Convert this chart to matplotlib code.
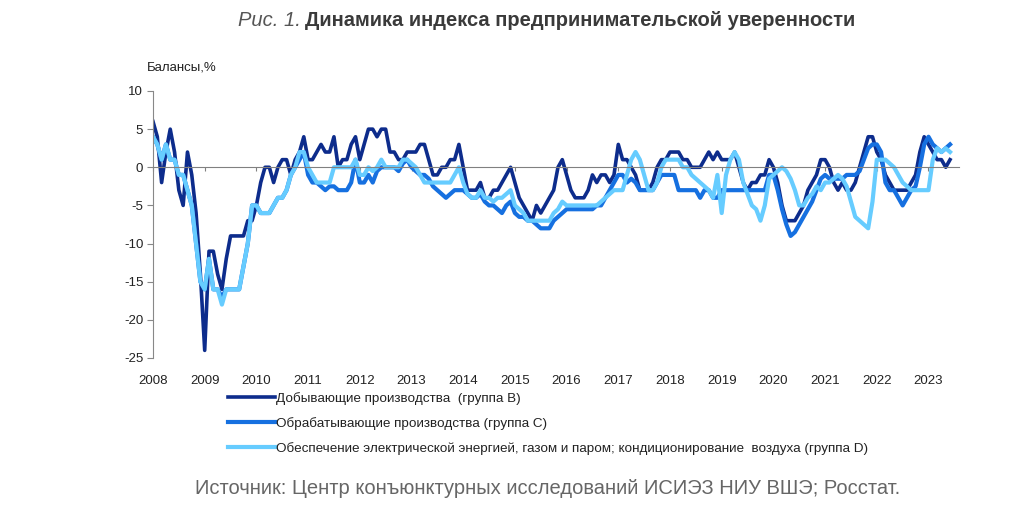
import numpy as np
import matplotlib.pyplot as plt

# monthly balances, Jan 2008 - Jun 2023 (%)
mining = [6, 4, -2, 2, 5, 2, -3, -5, 2, -1, -6, -14,
          -24, -11, -11, -14, -16, -12, -9, -9, -9, -9, -7, -7,
          -5, -2, 0, 0, -2, 0, 1, 1, -1, 1, 2, 4,
          1, 1, 2, 3, 2, 2, 4, 0, 1, 1, 3, 4,
          1, 3, 5, 5, 4, 5, 5, 2, 2, 1, 1, 2,
          2, 2, 3, 3, 1, -1, -1, 0, 0, 1, 1, 3,
          0, -3, -3, -3, -2, -4, -4, -3, -3, -2, -1, 0,
          -2, -4, -5, -6, -7, -5, -6, -5, -4, -3, 0, 1,
          -1, -3, -4, -4, -4, -3, -1, -2, -1, -1, -2, -1,
          3, 1, 1, 0, -1, -3, -3, -3, -2, 0, 1, 1,
          2, 2, 2, 1, 1, 0, 0, 0, 1, 2, 1, 2,
          1, 1, 1, 2, 0, -2, -3, -2, -2, -1, -1, 1,
          0, -2, -5, -7, -7, -7, -6, -5, -3, -2, -1, 1,
          1, 0, -2, -3, -2, -3, -3, -2, 0, 2, 4, 4,
          2, 1, -1, -2, -3, -3, -3, -3, -2, -1, 2, 4,
          3, 2, 1, 1, 0, 1]

manufacturing = [4, 3, 1, 3, 1, 1, -1, -1, -3, -5, -10, -15,
                 -16, -12, -16, -16, -17, -16, -16, -16, -16, -13, -10, -5,
                 -5, -6, -6, -6, -5, -4, -4, -3, -1, 0, 1, 2,
                 -1, -2, -2, -2.5, -3, -2.5, -2.5, -3, -3, -3, -2, 1,
                 -2, -2, -1, -2, -0.5, 0, 0, 0, 0, -0.5, 0.5, 1,
                 0, -0.5, -1, -1, -1.5, -2.5, -3, -3.5, -4, -3.5, -3, -3,
                 -3, -3.5, -4, -4, -3.5, -4.5, -5, -5, -5.5, -6, -5, -4.5,
                 -6, -6.5, -6.5, -7, -7, -7.5, -8, -8, -8, -7, -6.5, -6,
                 -5.5, -5.5, -5.5, -5.5, -5.5, -5.5, -5.5, -5, -5, -4, -3, -2,
                 -1, -1, -2, -1.5, -2, -3, -3, -3, -3, -2, -1, -1,
                 -1, -1, -3, -3, -3, -3, -3, -4, -3, -3, -4, -4,
                 -3, -3, -3, -3, -3, -3, -3, -3, -3, -3, -3, -1,
                 -1, -3, -5.5, -7.5, -9, -8.5, -7.5, -6.5, -5.5, -4.5, -3, -1.5,
                 -1, -1.5, -1.5, -1.5, -1.5, -1, -1, -1, -0.5, 1, 2.5, 3,
                 3, 2, -2, -3, -3, -4, -5, -4, -3, -2.5, 0, 3,
                 4, 3, 2.5, 2, 2.5, 3]

energy = [4, 3, 1, 3, 1, 1, -1, -1, -3, -5, -10, -15,
          -16, -12, -16, -16, -18, -16, -16, -16, -16, -13, -10, -5,
          -5, -6, -6, -6, -5, -4, -4, -3, -1, 0, 2, 2,
          0, -1, -2, -2, -2, -2, 0, 0, 0, 0, 0, 1,
          -1, -1, 0, -0.5, 0, 1, 0, 0, 0, 0, 1, 1,
          0.5, 0, -1, -2, -2, -2, -2, -2, -2, -2, -1, 0,
          -2, -3.5, -4, -4, -3, -4, -4, -4.5, -4, -4, -3.5, -3,
          -5, -5.5, -6, -7, -7, -7, -7, -7, -7, -6, -5.5, -4.5,
          -5, -5, -5, -5, -5, -5, -5, -5, -4.5, -4, -3.5, -3,
          -3, -3, -1, 1, 2, 1, -1, -3, -3, -2, 0, 1,
          1, 1, 1, 0, 0, -1, -1.5, -2, -2.5, -3, -4, -1,
          -6, -1, 1, 2, 1, -2, -3.5, -5, -5.5, -7, -5, -1.5,
          -1, -0.5, 0, -0.5, -1.5, -3, -5, -5, -4, -3.5, -2.5, -3,
          -2, -2, -1.5, -1, -1.5, -2.5, -4.5, -6.5, -7, -7.5, -8, -4.5,
          1, 1, 1, 0.5, 0, -1, -2, -2.5, -3, -3, -3, -3,
          -3, 1, 2.5, 2, 2.5, 2]

labels = ['Добывающие производства  (группа B)',
          'Обрабатывающие производства (группа C)',
          'Обеспечение электрической энергией, газом и паром; кондиционирование  воздуха (группа D)']
colors = ['#0d2c8c', '#1670e0', '#66ccff']
years = list(range(2008, 2024))
yticks = [10, 5, 0, -5, -10, -15, -20, -25]

t = 2008 + np.arange(len(mining)) / 12

plt.rcParams['font.family'] = ['Liberation Sans', 'DejaVu Sans']

fig = plt.figure(figsize=(10.24, 5.15), dpi=100, facecolor='white')
ax = fig.add_axes([153 / 1024, 1 - 358 / 515, 806 / 1024, 267 / 515])

for s, c, lab, lw in zip([mining, manufacturing, energy], colors, labels, [2.6, 3.0, 3.0]):
    ax.plot(t, s, color=c, lw=lw, label=lab, solid_joinstyle='round')

ax.set_xlim(2008, 2008 + 806 / 51.7)
ax.set_ylim(-25, 10)
ax.set_yticks(yticks)
ax.set_yticklabels([str(v) for v in yticks], fontsize=9.5, color='#222222')
ax.tick_params(axis='y', direction='out', length=4, color='#888888', pad=3)

for side in ['top', 'right']:
    ax.spines[side].set_visible(False)
ax.spines['left'].set_color('#888888')
ax.spines['bottom'].set_position(('data', 0))
ax.spines['bottom'].set_color('#808080')
ax.set_xticks(years)
ax.tick_params(axis='x', direction='out', length=3, color='#808080', labelbottom=False)

sec = ax.secondary_xaxis(location=0)
sec.set_xticks(years)
sec.set_xticklabels([str(y) for y in years], fontsize=9.5, color='#222222')
sec.tick_params(length=0, pad=12)
sec.spines['bottom'].set_visible(False)

fig.text(147 / 1024, 1 - 68 / 515, 'Балансы,%', fontsize=9.5,
         color='#222222', va='center', ha='left')

fig.legend(loc='upper left', bbox_to_anchor=(228 / 1024, 1 - 392 / 515), frameon=False,
           prop={'size': 9.7}, handlelength=3.5, handletextpad=0.1,
           labelspacing=0.9, borderpad=0, borderaxespad=0, labelcolor='#222222')

fig.text(301 / 1024, 1 - 20 / 515, 'Рис. 1.', fontsize=14.5, style='italic', color='#555555',
         ha='right', va='center')
fig.text(305 / 1024, 1 - 20 / 515, 'Динамика индекса предпринимательской уверенности',
         fontsize=14.5, weight='bold', color='#3a3a3a', ha='left', va='center')

fig.text(548 / 1024, 1 - 488 / 515,
         'Источник: Центр конъюнктурных исследований ИСИЭЗ НИУ ВШЭ; Росстат.',
         fontsize=14.5, color='#666666', ha='center', va='center')

fig.savefig('out.png', dpi=100)
